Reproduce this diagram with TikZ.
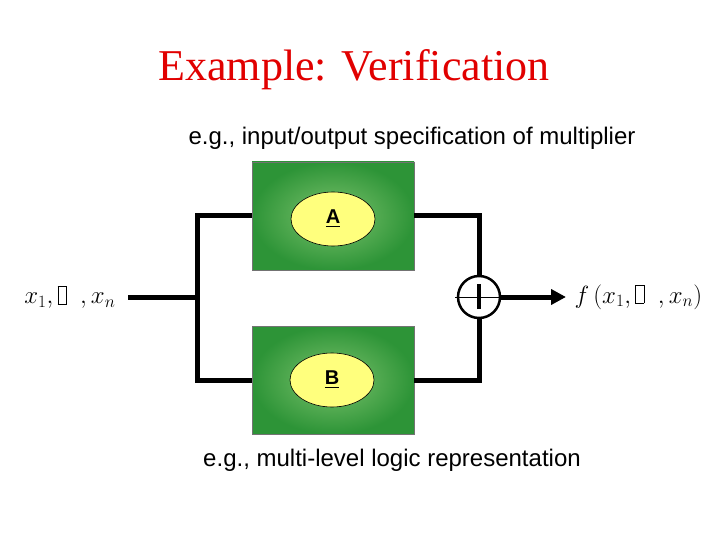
\documentclass[tikz,border=0pt]{standalone}
\usepackage{amsmath}
\usepackage{fontspec}
\setmainfont{Liberation Serif}
\setsansfont{Liberation Sans}
\usetikzlibrary{arrows.meta,positioning,shapes.geometric}
\definecolor{blockdark}{RGB}{45,148,55}
\definecolor{blocklight}{RGB}{125,195,110}
\definecolor{ovalyellow}{RGB}{255,255,125}
\definecolor{titlered}{RGB}{225,0,0}
\newcommand{\gapbox}{{\setlength{\fboxsep}{0pt}\setlength{\fboxrule}{0.5pt}\fbox{\rule{0pt}{0.65em}\hspace{0.3em}}}}

\begin{document}
\begin{tikzpicture}[x=1pt, y=-1pt, >=Triangle,
  block/.style={draw=black!55, line width=0.6pt, minimum width=162pt, minimum height=108pt,
    inner color=blocklight, outer color=blockdark},
  oval/.style={ellipse, draw, line width=0.6pt, fill=ovalyellow, minimum width=84pt, minimum height=54pt,
    font=\sffamily\bfseries\fontsize{20}{22}\selectfont},
  wire/.style={line width=5pt},
  caption/.style={font=\sffamily\fontsize{24}{28}\selectfont}]
\path[use as bounding box] (0,0) rectangle (720,540);
\node[font=\fontsize{44}{50}\selectfont, text=titlered] (title) at (354,70) {Example: Verification};
\node[caption] (spec) at (412,138) {e.g., input/output specification of multiplier};
\node[caption] (impl) at (392,460) {e.g., multi-level logic representation};
\node[block] (A) at (333,216) {};
\node[block] (B) at (333,380) {};
\node[oval] (ovA) at (333,219) {\underline{A}};
\node[oval] (ovB) at (332,380) {\underline{B}};
\node[circle, draw, line width=2.5pt, minimum size=42pt, inner sep=0pt] (sum) at (479,297) {};
\coordinate (in) at (128,297);
\coordinate (split) at (197,297);
\coordinate (out) at (566,297);
\node[anchor=east, font=\fontsize{27}{30}\selectfont] (xin) at (119,297) {$x_1,\gapbox\ \ ,x_n$};
\node[right=5pt of out, font=\fontsize{27}{30}\selectfont] (fout) {$f\,(x_1,\gapbox\ \ ,x_n)$};
\draw[wire] (in) -- (split);
\draw[wire] (split) |- (A.west);
\draw[wire] (split) |- (B.west);
\draw[wire] (A.east) -| (sum.north);
\draw[wire] (B.east) -| (sum.south);
\draw[wire, ->, >={Triangle[length=15pt, width=15pt]}] (sum.east) -- (out);
\draw[line width=1pt] ([xshift=-24pt]sum.center) -- ([xshift=29pt]sum.center);
\draw[line width=4.5pt] ([yshift=-12pt]sum.center) -- ([yshift=13pt]sum.center);
\end{tikzpicture}
\end{document}
